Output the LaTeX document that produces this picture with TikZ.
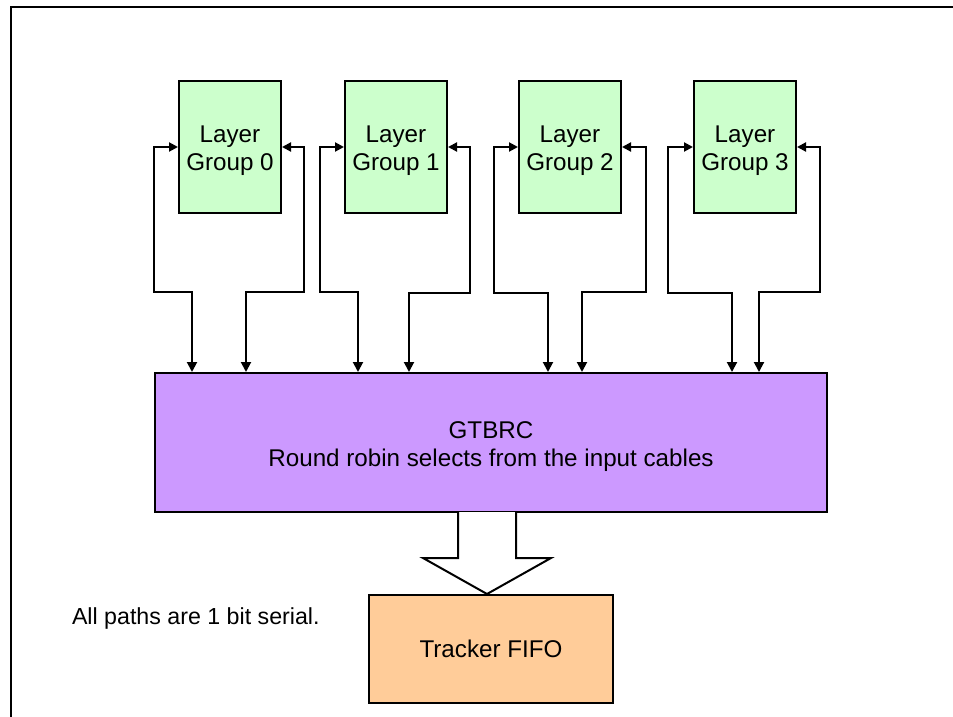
\documentclass[tikz,border=0pt]{standalone}
\usepackage{fontspec}
\setmainfont{Liberation Sans}
\usetikzlibrary{arrows.meta}
\definecolor{lgreen}{HTML}{CCFFCC}
\definecolor{lpurple}{HTML}{CC99FF}
\definecolor{lorange}{HTML}{FFCC99}
\begin{document}
\begin{tikzpicture}[x=1pt,y=-1pt,line width=2pt,
  txt/.style={font=\fontsize{24.2}{28}\selectfont},
  box/.style={draw,anchor=north west,inner sep=0pt},
  lg/.style={box,fill=lgreen,minimum width=102pt,minimum height=132pt},
  inner/.style={label={[txt,align=center,yshift=-4pt]center:#1}},
  link/.style={{Triangle[length=9pt,width=9pt]}-{Triangle[length=10pt,width=10pt]}}]
\useasboundingbox (0,0) rectangle (953,717);
\draw (11,717) -- (11,7) -- (953,7);

\node[lg,inner={Layer\\Group 0}] (lg0) at (178,80) {};
\node[lg,inner={Layer\\Group 1}] (lg1) at (344,80) {};
\node[lg,inner={Layer\\Group 2}] (lg2) at (518,80) {};
\node[lg,inner={Layer\\Group 3}] (lg3) at (693,80) {};

\node[box,fill=lpurple,minimum width=672pt,minimum height=139pt,inner={GTBRC\\Round robin selects from the input cables}] (gt) at (154,372) {};

\node[box,fill=lorange,minimum width=244pt,minimum height=108pt,txt] (fifo) at (368,594) {Tracker FIFO};

\node[anchor=base west,inner sep=0pt,font=\fontsize{23.2}{27}\selectfont] (note) at (71,624) {All paths are 1 bit serial.};

\coordinate (tip) at (487,594);
\draw[fill=white,line join=miter] (458,512) -- (458,558) -- (423,558) -- (tip) -- (551,558) -- (516,558) -- (516,512);

\draw[link] (lg0.west) -- (154,0 |- lg0.west) |- (192,292) -- (192,0 |- gt.north);
\draw[link] (lg0.east) -- (304,0 |- lg0.east) |- (246,292) -- (246,0 |- gt.north);
\draw[link] (lg1.west) -- (320,0 |- lg1.west) |- (358,292) -- (358,0 |- gt.north);
\draw[link] (lg1.east) -- (470,0 |- lg1.east) |- (409,293) -- (409,0 |- gt.north);
\draw[link] (lg2.west) -- (494,0 |- lg2.west) |- (548,293) -- (548,0 |- gt.north);
\draw[link] (lg2.east) -- (646,0 |- lg2.east) |- (582,292) -- (582,0 |- gt.north);
\draw[link] (lg3.west) -- (668,0 |- lg3.west) |- (732,293) -- (732,0 |- gt.north);
\draw[link] (lg3.east) -- (820,0 |- lg3.east) |- (759,292) -- (759,0 |- gt.north);
\end{tikzpicture}
\end{document}
